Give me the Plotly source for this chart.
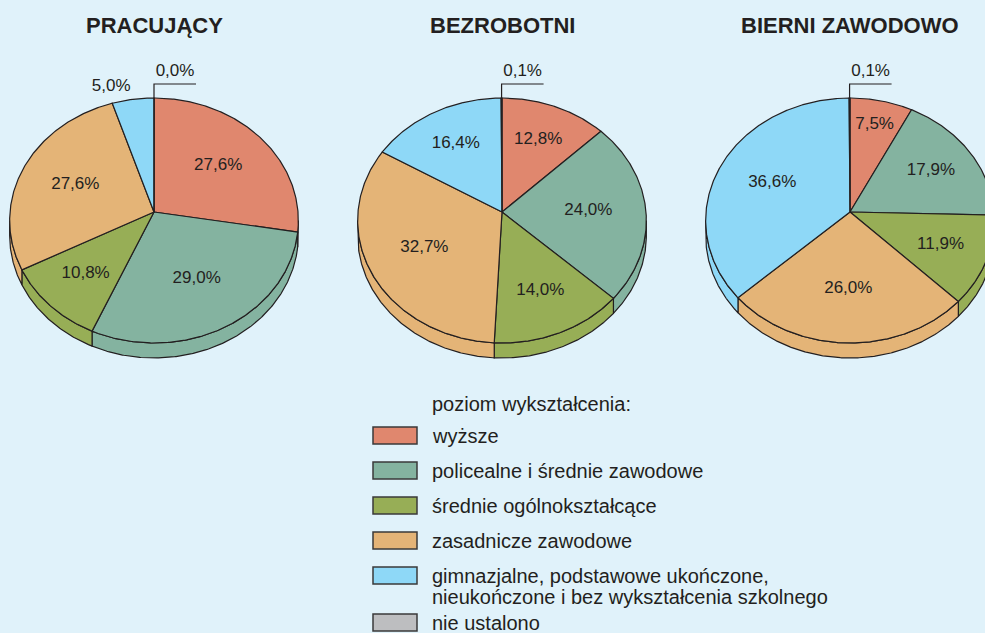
import numpy as np
import plotly.graph_objects as go

# ---------------- data ----------------
groups = ["PRACUJĄCY", "BEZROBOTNI", "BIERNI ZAWODOWO"]
categories = [
    "wyższe",
    "policealne i średnie zawodowe",
    "średnie ogólnokształcące",
    "zasadnicze zawodowe",
    "gimnazjalne, podstawowe ukończone,<br>nieukończone i bez wykształcenia szkolnego",
    "nie ustalono",
]
pracujacy = [27.6, 29.0, 10.8, 27.6, 5.0, 0.0]
bezrobotni = [12.8, 24.0, 14.0, 32.7, 16.4, 0.1]
bierni = [7.5, 17.9, 11.9, 26.0, 36.6, 0.1]
legend_title = "poziom wykształcenia:"

# ---------------- style / layout ----------------
colors = ["#E0876E", "#84B3A0", "#97AE56", "#E4B477", "#8ED8F7", "#BDBEC0"]
BG = "#E0F2FA"
EDGE = "#231F20"
TXT = "#231F20"
FONT = "Liberation Sans, Arial, sans-serif"
W, H = 985, 633

centers = [(154, 212), (502, 212), (850, 212)]
F, G, K = 144.0, 121.9, 0.0694   # perspective ellipse parameters
T = 15                            # thickness of the pie
TH_R = np.degrees(np.arccos(-K))  # rightmost silhouette angle
TH_L = 360 - TH_R                 # leftmost silhouette angle


def proj(cx, cy, theta_deg, r=1.0):
    th = np.radians(theta_deg)
    u = r * np.sin(th)
    v = r * np.cos(th)
    den = 1 + K * v
    return cx + F * u / den, cy - G * v / den


def arc(cx, cy, a, b):
    n = max(2, int(abs(b - a) / 0.5) + 2)
    th = np.linspace(a, b, n)
    return proj(cx, cy, th)


def fmt(v):
    return f"{v:.1f}".replace(".", ",") + "%"


fig = go.Figure()
series = [pracujacy, bezrobotni, bierni]

for (cx, cy), vals in zip(centers, series):
    vals = np.array(vals, dtype=float)
    ends = np.cumsum(vals) / vals.sum() * 360
    starts = ends - vals / vals.sum() * 360

    # side walls (front part only)
    for a, b, col in zip(starts, ends, colors):
        lo, hi = max(a, TH_R), min(b, TH_L)
        if hi > lo:
            x, y = arc(cx, cy, lo, hi)
            xs = np.concatenate([x, x[::-1], x[:1]])
            ys = np.concatenate([y, y[::-1] + T, y[:1]])
            fig.add_trace(go.Scatter(x=xs, y=ys, mode="lines", fill="toself",
                                     fillcolor=col, line=dict(color=EDGE, width=1.2),
                                     hoverinfo="skip", showlegend=False))
    # top faces
    for a, b, col in zip(starts, ends, colors):
        x, y = arc(cx, cy, a, b)
        xs = np.concatenate([[cx], x, [cx]])
        ys = np.concatenate([[cy], y, [cy]])
        fig.add_trace(go.Scatter(x=xs, y=ys, mode="lines", fill="toself",
                                 fillcolor=col, line=dict(color=EDGE, width=1.2),
                                 hoverinfo="skip", showlegend=False))

    # percentage labels
    lx, ly, lt, lp = [], [], [], []
    for v, a, b in zip(vals[:-1], starts[:-1], ends[:-1]):
        mid = (a + b) / 2
        if v >= 20:
            r, pos = 0.6, "middle center"
        elif v >= 10:
            r, pos = 0.67, "middle center"
        elif v >= 6:
            r, pos = 0.77, "middle center"
        else:
            r = 1.12
            pos = "middle left" if mid > 180 else "middle right"
        px, py = proj(cx, cy, mid, r)
        lx.append(px); ly.append(py); lt.append(fmt(v)); lp.append(pos)
    fig.add_trace(go.Scatter(x=lx, y=ly, text=lt, mode="text", textposition=lp,
                             textfont=dict(family=FONT, size=17, color=TXT),
                             hoverinfo="skip", showlegend=False))

    # leader for the "nie ustalono" slice
    mid = (starts[-1] + ends[-1]) / 2
    sx, sy = proj(cx, cy, mid, 1.0)
    ytop = sy - 14
    fig.add_trace(go.Scatter(x=[sx, sx, sx + 42], y=[sy, ytop, ytop], mode="lines",
                             line=dict(color=EDGE, width=1.2),
                             hoverinfo="skip", showlegend=False))
    fig.add_trace(go.Scatter(x=[sx + 21], y=[ytop - 12], text=[fmt(vals[-1])], mode="text",
                             textposition="middle center",
                             textfont=dict(family=FONT, size=17, color=TXT),
                             hoverinfo="skip", showlegend=False))

annotations = []
for (cx, cy), g in zip(centers, groups):
    annotations.append(dict(x=cx, y=25, xref="x", yref="y", text=f"<b>{g}</b>",
                            showarrow=False, font=dict(family=FONT, size=22, color=TXT)))

# legend
shapes = []
LX0, LX1, TXT_X = 373, 417, 430
annotations.append(dict(x=TXT_X, y=404, xref="x", yref="y", text=legend_title,
                        showarrow=False, xanchor="left", yanchor="middle",
                        font=dict(family=FONT, size=20, color=TXT)))
ybox = 427
for cat, col in zip(categories, colors):
    shapes.append(dict(type="rect", xref="x", yref="y", x0=LX0, x1=LX1, y0=ybox, y1=ybox + 17,
                       fillcolor=col, line=dict(color="#3A3A3A", width=1.5), layer="above"))
    lines = cat.split("<br>")
    for j, ln in enumerate(lines):
        annotations.append(dict(x=TXT_X, y=ybox + 9 + 21 * j, xref="x", yref="y", text=ln,
                                showarrow=False, xanchor="left", yanchor="middle",
                                font=dict(family=FONT, size=20, color=TXT)))
    ybox += 35 + 12 * (len(lines) - 1)

fig.update_layout(
    width=W, height=H,
    margin=dict(l=0, r=0, t=0, b=0),
    paper_bgcolor=BG, plot_bgcolor=BG,
    xaxis=dict(range=[0, W], visible=False, fixedrange=True),
    yaxis=dict(range=[H, 0], visible=False, fixedrange=True),
    annotations=annotations, shapes=shapes,
    showlegend=False,
)

fig.write_html(
    "out.html",
    config={"displayModeBar": False},
    post_script="document.body.style.margin='0';document.body.style.overflow='hidden';"
                "document.body.style.background='" + BG + "';",
)
